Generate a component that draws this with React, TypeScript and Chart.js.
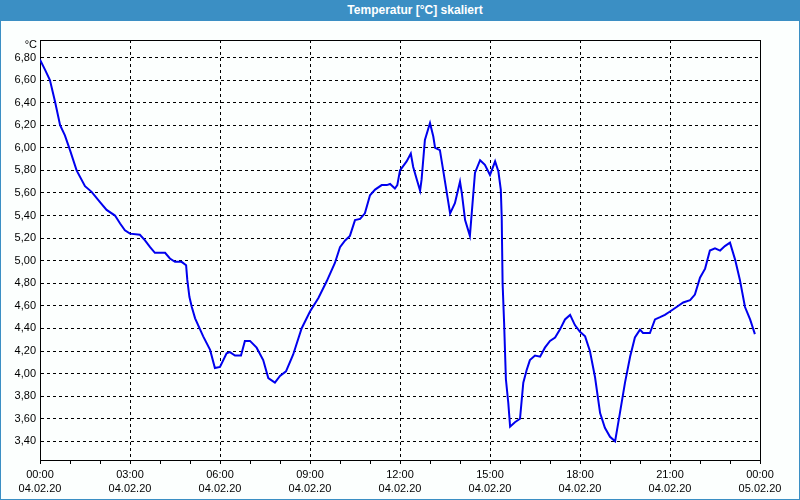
import React, { useEffect, useRef } from "react";
import { Chart, registerables } from "chart.js";

Chart.register(...registerables);

const chartTitle = "Temperatur [°C] skaliert";
const unitLabel = "°C";

// hours since 04.02.20 00:00
const hours = [
  0, 0.17, 0.33, 0.5, 0.67, 0.83, 1.0, 1.22, 1.5, 1.72,
  2.0, 2.22, 2.5, 2.67, 2.83, 3.0, 3.33, 3.5, 3.67, 3.83,
  4.17, 4.33, 4.5, 4.72, 4.87, 4.91, 4.98, 5.06, 5.17, 5.44,
  5.67, 5.83, 6.0, 6.22, 6.33, 6.5, 6.7, 6.83, 7.0, 7.22,
  7.44, 7.61, 7.83, 8.0, 8.2, 8.44, 8.72, 9.0, 9.28, 9.56,
  9.83, 10.0, 10.17, 10.33, 10.5, 10.67, 10.83, 11.0, 11.17, 11.39,
  11.56, 11.67, 11.83, 11.91, 12.0, 12.22, 12.36, 12.44, 12.56, 12.67,
  12.72, 12.83, 13.0, 13.11, 13.17, 13.33, 13.44, 13.67, 13.83, 14.0,
  14.06, 14.17, 14.33, 14.5, 14.67, 14.83, 15.0, 15.17, 15.28, 15.36,
  15.39, 15.42, 15.47, 15.53, 15.61, 15.67, 15.83, 16.0, 16.11, 16.22,
  16.33, 16.5, 16.67, 16.83, 17.0, 17.17, 17.33, 17.5, 17.67, 17.83,
  18.0, 18.17, 18.33, 18.5, 18.67, 18.83, 19.0, 19.17, 19.33, 19.5,
  19.67, 19.83, 20.0, 20.1, 20.33, 20.5, 20.67, 20.83, 21.0, 21.22,
  21.44, 21.67, 21.83, 22.0, 22.17, 22.33, 22.5, 22.67, 22.83, 23.0,
  23.17, 23.33, 23.5, 23.67, 23.83,
];

const temps = [
  6.78, 6.69, 6.6, 6.41, 6.2, 6.11, 5.98, 5.8, 5.66, 5.61,
  5.52, 5.45, 5.4, 5.33, 5.27, 5.24, 5.23, 5.18, 5.12, 5.07,
  5.07, 5.02, 4.99, 4.99, 4.96, 4.83, 4.68, 4.59, 4.49, 4.33,
  4.21, 4.05, 4.06, 4.18, 4.19, 4.16, 4.16, 4.29, 4.29, 4.23,
  4.12, 3.96, 3.92, 3.98, 4.02, 4.17, 4.4, 4.55, 4.67, 4.82,
  4.98, 5.12, 5.18, 5.22, 5.36, 5.37, 5.42, 5.58, 5.63, 5.67,
  5.67, 5.68, 5.64, 5.67, 5.8, 5.88, 5.95, 5.83, 5.72, 5.62,
  5.72, 6.07, 6.22, 6.1, 6.0, 5.98, 5.8, 5.42, 5.51, 5.7,
  5.6, 5.36, 5.22, 5.78, 5.89, 5.85, 5.76, 5.88, 5.79, 5.63,
  5.39, 4.8, 4.45, 3.95, 3.74, 3.53, 3.57, 3.6, 3.92, 4.03,
  4.12, 4.16, 4.15, 4.23, 4.29, 4.32, 4.39, 4.48, 4.52, 4.43,
  4.37, 4.33, 4.2, 3.97, 3.65, 3.52, 3.44, 3.4, 3.65, 3.92,
  4.15, 4.32, 4.39, 4.36, 4.36, 4.48, 4.5, 4.52, 4.55, 4.59,
  4.63, 4.65, 4.7, 4.85, 4.93, 5.09, 5.11, 5.09, 5.13, 5.16,
  5.01, 4.83, 4.59, 4.48, 4.35,
];

const yTickValues = [3.4, 3.6, 3.8, 4.0, 4.2, 4.4, 4.6, 4.8, 5.0, 5.2, 5.4, 5.6, 5.8, 6.0, 6.2, 6.4, 6.6, 6.8];
const xTickHours = [0, 3, 6, 9, 12, 15, 18, 21, 24];
const xTimeLabels = ["00:00", "03:00", "06:00", "09:00", "12:00", "15:00", "18:00", "21:00", "00:00"];
const xDateLabels = ["04.02.20", "04.02.20", "04.02.20", "04.02.20", "04.02.20", "04.02.20", "04.02.20", "04.02.20", "05.02.20"];

const FONT = "'Liberation Sans', Arial, sans-serif";

export default function App() {
  const canvasRef = useRef<HTMLCanvasElement | null>(null);

  useEffect(() => {
    const canvas = canvasRef.current;
    if (!canvas) return;

    const framePlugin = {
      id: "frame",
      beforeDatasetsDraw(chart: any) {
        const { ctx, chartArea } = chart;
        ctx.save();
        ctx.strokeStyle = "#000";
        ctx.lineWidth = 1;
        ctx.setLineDash([]);
        ctx.strokeRect(
          Math.round(chartArea.left) + 0.5,
          Math.round(chartArea.top) + 0.5,
          Math.round(chartArea.right - chartArea.left),
          Math.round(chartArea.bottom - chartArea.top)
        );
        ctx.restore();
      },
      afterDraw(chart: any) {
        const { ctx, chartArea } = chart;
        ctx.save();
        ctx.fillStyle = "#000";
        ctx.font = `11px ${FONT}`;
        ctx.textAlign = "right";
        ctx.textBaseline = "middle";
        ctx.fillText(unitLabel, chartArea.left - 3, chartArea.top + 5);
        ctx.restore();
      },
    };

    const chart = new Chart(canvas, {
      type: "line",
      data: {
        datasets: [
          {
            label: chartTitle,
            data: hours.map((h, i) => ({ x: h, y: temps[i] })),
            borderColor: "#0000ee",
            borderWidth: 2,
            pointRadius: 0,
            tension: 0,
            fill: false,
          },
        ],
      },
      options: {
        responsive: false,
        animation: false,
        devicePixelRatio: 1,
        layout: { padding: { left: 0, right: 39, top: 19, bottom: 0 } },
        plugins: {
          legend: { display: false },
          title: { display: false },
          tooltip: { enabled: false },
        },
        scales: {
          x: {
            type: "linear",
            min: 0,
            max: 24,
            afterBuildTicks: (scale: any) => {
              const t = [];
              for (let h = 0; h <= 24; h++) t.push({ value: h });
              scale.ticks = t;
            },
            afterFit: (scale: any) => {
              scale.height = 39;
              scale.paddingLeft = 0;
              scale.paddingRight = 0;
            },
            grid: {
              color: (ctx: any) =>
                ctx.tick && xTickHours.includes(Math.round(ctx.tick.value)) ? "#000" : "rgba(0,0,0,0)",
              tickColor: "#000",
              tickLength: 4,
              lineWidth: 1,
              drawTicks: true,
            },
            border: { display: true, color: "#000", width: 1, dash: [3, 3] },
            ticks: {
              autoSkip: false,
              maxRotation: 0,
              minRotation: 0,
              padding: 4,
              color: "#000",
              font: { family: FONT, size: 11, lineHeight: 1.3 },
              callback: (v: any) => {
                const idx = xTickHours.indexOf(Math.round(Number(v)));
                return idx >= 0 ? [xTimeLabels[idx], xDateLabels[idx]] : "";
              },
            },
          },
          y: {
            type: "linear",
            min: 3.235,
            max: 6.955,
            afterBuildTicks: (scale: any) => {
              scale.ticks = yTickValues.map((v) => ({ value: v }));
            },
            afterFit: (scale: any) => {
              scale.width = 39;
              scale.paddingTop = 0;
              scale.paddingBottom = 0;
            },
            grid: {
              color: "#000",
              lineWidth: 1,
              drawTicks: false,
            },
            border: { display: true, color: "#000", width: 1, dash: [3, 3] },
            ticks: {
              padding: 4,
              color: "#000",
              font: { family: FONT, size: 11 },
              callback: (v: any) => Number(v).toFixed(2).replace(".", ","),
            },
          },
        },
      },
      plugins: [framePlugin],
    });

    return () => chart.destroy();
  }, []);

  return (
    <div
      style={{
        position: "fixed",
        left: 0,
        top: 0,
        width: 800,
        height: 500,
        boxSizing: "border-box",
        border: "1px solid #3b8fc4",
        background: "#fcfffe",
        overflow: "hidden",
      }}
    >
      <div
        style={{
          position: "absolute",
          left: -1,
          top: -1,
          width: 800,
          height: 21,
          background: "#3b8fc4",
          color: "#fff",
          fontFamily: FONT,
          fontWeight: "bold",
          fontSize: 12,
          lineHeight: "21px",
          textAlign: "center",
          boxSizing: "border-box",
          paddingLeft: 30,
        }}
      >
        {chartTitle}
      </div>
      <canvas
        ref={canvasRef}
        width={798}
        height={478}
        style={{ position: "absolute", left: 0, top: 20, width: 798, height: 478 }}
      />
    </div>
  );
}
